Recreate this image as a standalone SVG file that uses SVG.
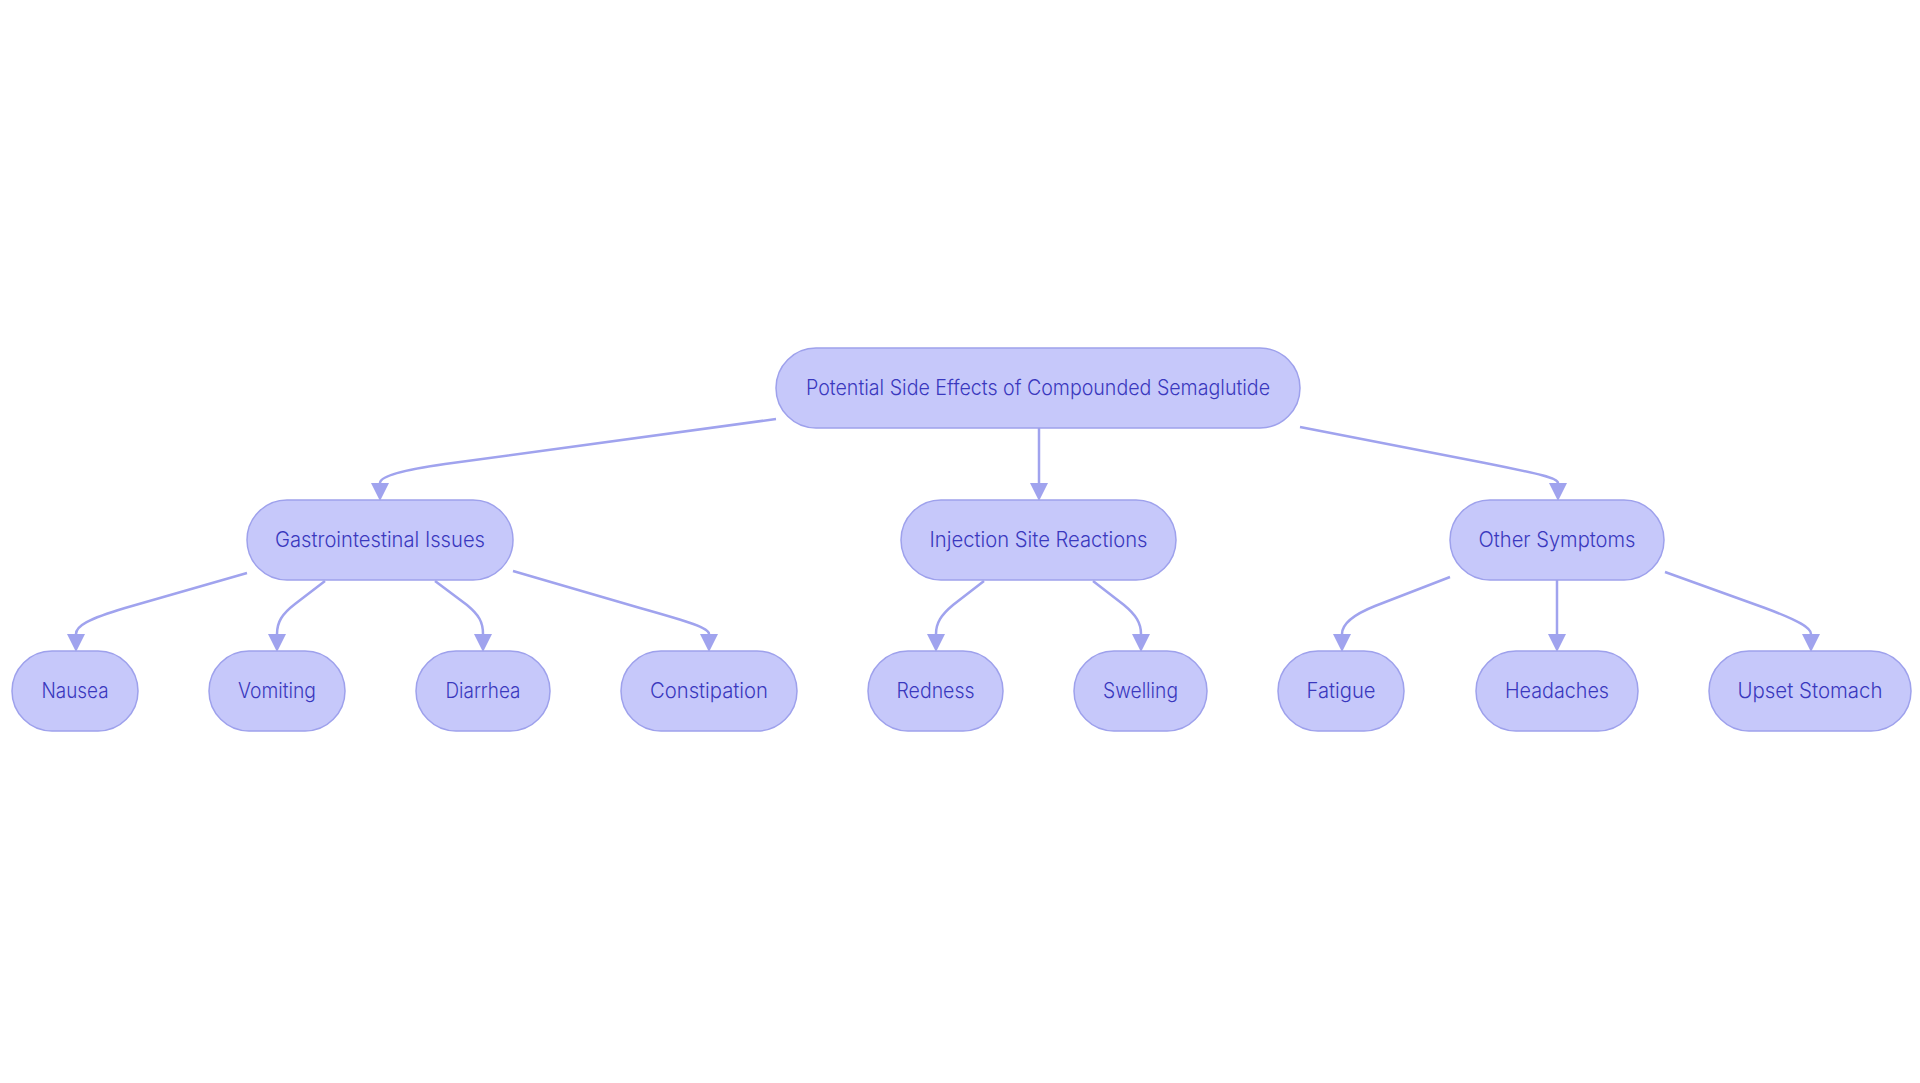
<svg xmlns="http://www.w3.org/2000/svg" width="1920" height="1083" viewBox="0 0 1920 1083">
<style>
.node rect{fill:#C6C8FA;stroke:#9EA1EC;stroke-width:1.5}
.node text{font-family:Inter,"Noto Sans","Liberation Sans",sans-serif;font-size:21px;font-weight:300;fill:#3A38BE;text-anchor:middle}
.edge{fill:none;stroke:#A0A3EE;stroke-width:2.5;marker-end:url(#arrow)}
</style>
<defs>
<marker id="arrow" markerUnits="userSpaceOnUse" viewBox="0 0 18 18" refX="0" refY="9" markerWidth="18" markerHeight="18" orient="auto">
<path d="M0,0 L18,9 L0,18 z" fill="#A0A3EE"/>
</marker>
</defs>
<rect width="1920" height="1083" fill="#ffffff"/>
<g id="connectors">
<path class="edge" d="M776,419 L445,464 C397,471 380,477 380,483"/>
<path class="edge" d="M1039,428 L1039,483"/>
<path class="edge" d="M1300,427 L1485,463 C1540,474 1558,478 1558,483"/>
<path class="edge" d="M247,573 L125,608 C88,619 76,626 76,634"/>
<path class="edge" d="M325,581 L295,604 C282,614 277,622 277,634"/>
<path class="edge" d="M435,581 L467,605 C479,615 483,622 483,634"/>
<path class="edge" d="M513,571 L640,608 C690,622 709,628 709,634"/>
<path class="edge" d="M984,581 L953,605 C941,615 936,623 936,634"/>
<path class="edge" d="M1093,581 L1124,605 C1136,615 1141,623 1141,634"/>
<path class="edge" d="M1450,577 L1375,606 C1350,616 1342,625 1342,634"/>
<path class="edge" d="M1557,580 L1557,634"/>
<path class="edge" d="M1665,572 L1765,608 C1800,621 1811,628 1811,634"/>
</g>
<g id="root" class="node"><rect x="776" y="348" width="524" height="80" rx="40"/><text x="1038" y="395" textLength="464" lengthAdjust="spacingAndGlyphs">Potential Side Effects of Compounded Semaglutide</text></g>
<g id="gastro" class="node"><rect x="247" y="500" width="266" height="80" rx="40"/><text x="380" y="547" textLength="210" lengthAdjust="spacingAndGlyphs">Gastrointestinal Issues</text></g>
<g id="injection" class="node"><rect x="901" y="500" width="275" height="80" rx="40"/><text x="1038.5" y="547" textLength="218" lengthAdjust="spacingAndGlyphs">Injection Site Reactions</text></g>
<g id="other" class="node"><rect x="1450" y="500" width="214" height="80" rx="40"/><text x="1557" y="547" textLength="157" lengthAdjust="spacingAndGlyphs">Other Symptoms</text></g>
<g id="nausea" class="node"><rect x="12" y="651" width="126" height="80" rx="40"/><text x="75" y="698" textLength="67" lengthAdjust="spacingAndGlyphs">Nausea</text></g>
<g id="vomiting" class="node"><rect x="209" y="651" width="136" height="80" rx="40"/><text x="277" y="698" textLength="78" lengthAdjust="spacingAndGlyphs">Vomiting</text></g>
<g id="diarrhea" class="node"><rect x="416" y="651" width="134" height="80" rx="40"/><text x="483" y="698" textLength="75" lengthAdjust="spacingAndGlyphs">Diarrhea</text></g>
<g id="constipation" class="node"><rect x="621" y="651" width="176" height="80" rx="40"/><text x="709" y="698" textLength="118" lengthAdjust="spacingAndGlyphs">Constipation</text></g>
<g id="redness" class="node"><rect x="868" y="651" width="135" height="80" rx="40"/><text x="935.5" y="698" textLength="78" lengthAdjust="spacingAndGlyphs">Redness</text></g>
<g id="swelling" class="node"><rect x="1074" y="651" width="133" height="80" rx="40"/><text x="1140.5" y="698" textLength="75" lengthAdjust="spacingAndGlyphs">Swelling</text></g>
<g id="fatigue" class="node"><rect x="1278" y="651" width="126" height="80" rx="40"/><text x="1341" y="698" textLength="69" lengthAdjust="spacingAndGlyphs">Fatigue</text></g>
<g id="headaches" class="node"><rect x="1476" y="651" width="162" height="80" rx="40"/><text x="1557" y="698" textLength="104" lengthAdjust="spacingAndGlyphs">Headaches</text></g>
<g id="upset" class="node"><rect x="1709" y="651" width="202" height="80" rx="40"/><text x="1810" y="698" textLength="145" lengthAdjust="spacingAndGlyphs">Upset Stomach</text></g>
</svg>
